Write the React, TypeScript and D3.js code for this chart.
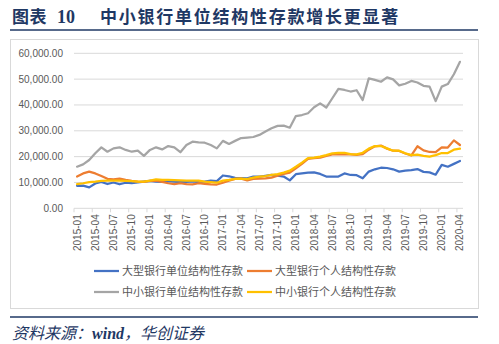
import React from "react";
import * as d3 from "d3";

const months: string[] = [];
for (let y = 2015; y <= 2020; y++) {
  for (let m = 1; m <= 12; m++) {
    if (y === 2020 && m > 4) break;
    months.push(`${y}-${String(m).padStart(2, "0")}`);
  }
}

const seriesNames = [
  "大型银行单位结构性存款",
  "大型银行个人结构性存款",
  "中小银行单位结构性存款",
  "中小银行个人结构性存款",
];

const largeUnit = [
  8700, 8800, 8100, 9600, 10200, 9400, 10000, 9300, 9900, 9700,
  10000, 10300, 10600, 10300, 10200, 10500, 10300, 10100, 10200, 10400,
  10100, 10300, 10700, 10500, 12700, 12400, 11800, 11700, 11600, 12300,
  12300, 12600, 12900, 12600, 12300, 10800, 13200, 13500, 13800, 13900,
  13300, 12300, 12300, 12300, 13500, 12900, 12800, 11600, 14200, 15100,
  15700, 15600, 15100, 14200, 14600, 14800, 15200, 14100, 13900, 13000,
  16800, 16100, 17200, 18300,
];

const largePersonal = [
  12300, 13500, 14200, 13500, 12500, 11400, 11200, 11500, 11000, 10600,
  10300, 10200, 10600, 10700, 10200, 9700, 9400, 9700, 9400, 9300,
  9700, 9500, 9300, 9200, 9900, 10700, 11400, 11500, 10800, 11400,
  11500, 11600, 11900, 12600, 13300, 13800, 15500, 17200, 19100, 19400,
  19600, 20300, 20900, 21000, 20900, 20900, 20700, 21000, 22700, 24000,
  24300, 23100, 22300, 22200, 21200, 20500, 24000, 22400, 21800, 21700,
  23600, 23500, 26300, 24500,
];

const smallUnit = [
  16100, 17000, 18700, 21300, 23600, 21900, 23200, 23600, 22600, 21900,
  22300, 20300, 22600, 23600, 22800, 24100, 23600, 21700, 24500, 25800,
  25500, 25400, 24500, 23200, 26100, 24900, 26100, 27200, 27400, 27600,
  28400, 29700, 31000, 31900, 32000, 31200, 35700, 36100, 36800, 39100,
  40600, 39000, 42600, 46200, 45800, 45200, 45700, 41900, 50300, 49700,
  49000, 50700, 49900, 47600, 48200, 49300, 48700, 47400, 47100, 41500,
  47100, 48100, 51900, 56700,
];

const smallPersonal = [
  9400, 9700, 10100, 10300, 10600, 10700, 10700, 10700, 10600, 10500,
  10300, 10300, 10700, 11200, 11000, 11000, 10900, 10800, 10700, 10700,
  10700, 10300, 10100, 9900, 10700, 11000, 11400, 11500, 11300, 11900,
  12300, 12500, 12900, 13200, 13800, 14600, 16100, 17700, 19400, 19600,
  20000, 20600, 21300, 21500, 21500, 21000, 20900, 21500, 23100, 24100,
  24100, 23200, 22300, 22300, 21300, 20600, 20800, 20300, 20000, 20600,
  21400, 21400, 22700, 23100,
];

const yTicks = [0, 10000, 20000, 30000, 40000, 50000, 60000];
const colors = ["#4472C4", "#ED7D31", "#A5A5A5", "#FFC000"];
const allSeries = [largeUnit, largePersonal, smallUnit, smallPersonal];

const W = 499;
const H = 344;
const plotLeft = 74;
const plotRight = 463;
const plotTop = 53.3;
const plotBottom = 208.3;
const navy = "#1F3864";

export default function App() {
  const x = d3.scaleBand<string>().domain(months).range([plotLeft, plotRight]).padding(0);
  const bw = x.bandwidth();
  const cx = (m: string) => (x(m) as number) + bw / 2;
  const y = d3.scaleLinear().domain([0, 60000]).range([plotBottom, plotTop]);
  const fmt = d3.format(",.2f");
  const line = d3
    .line<number>()
    .x((_, i) => cx(months[i]))
    .y((d) => y(d));

  const tickBoundaries: number[] = [];
  for (let i = 0; i <= months.length; i += 3) tickBoundaries.push(plotLeft + i * bw);

  const legendItems = [
    { name: seriesNames[0], color: colors[0], lx: 94, ly: 271 },
    { name: seriesNames[1], color: colors[1], lx: 247, ly: 271 },
    { name: seriesNames[2], color: colors[2], lx: 94, ly: 292 },
    { name: seriesNames[3], color: colors[3], lx: 247, ly: 292 },
  ];

  const cjk = "'Noto Sans CJK SC', 'Noto Sans', sans-serif";
  const num = "'Liberation Sans', Arial, sans-serif";

  return (
    <svg
      width={W}
      height={H}
      style={{ position: "absolute", left: 0, top: 0, background: "#fff" }}
    >
      <rect x={0} y={0} width={W} height={H} fill="#fff" />
      {/* Title */}
      <text x={12} y={23} fill={navy} fontSize={17} fontWeight="bold">
        <tspan fontFamily={cjk} letterSpacing={0.5}>图表</tspan>
        <tspan x={57} fontFamily="'Liberation Serif', serif" fontSize={18}>10</tspan>
        <tspan x={100} fontFamily={cjk} letterSpacing={1.75}>
          中小银行单位结构性存款增长更显著
        </tspan>
      </text>
      <line x1={10} x2={478} y1={30} y2={30} stroke={navy} strokeWidth={1.6} />
      {/* chart frame */}
      <rect x={10.5} y={39.5} width={468} height={269} fill="none" stroke="#d9d9d9" strokeWidth={1} />

      {/* gridlines */}
      {yTicks.map((t) => (
        <g key={t}>
          <line
            x1={plotLeft}
            x2={plotRight}
            y1={y(t)}
            y2={y(t)}
            stroke="#d9d9d9"
            strokeWidth={1}
          />
          <text
            x={63}
            y={y(t)}
            dy="0.35em"
            textAnchor="end"
            fontSize={10}
            fontFamily={num}
            fill="#595959"
          >
            {fmt(t)}
          </text>
        </g>
      ))}
      {/* x tick marks */}
      {tickBoundaries.map((tx, i) => (
        <line key={i} x1={tx} x2={tx} y1={plotBottom} y2={plotBottom + 4} stroke="#d9d9d9" />
      ))}
      {/* x labels */}
      {months.map((m, i) =>
        i % 3 === 0 ? (
          <text
            key={m}
            transform={`translate(${cx(m)},${plotBottom + 6}) rotate(-90)`}
            textAnchor="end"
            dy="0.35em"
            fontSize={10}
            fontFamily={num}
            fill="#595959"
          >
            {m}
          </text>
        ) : null
      )}
      {/* lines */}
      {allSeries.map((s, k) => (
        <path
          key={k}
          d={line(s) as string}
          fill="none"
          stroke={colors[k]}
          strokeWidth={2.25}
          strokeLinejoin="round"
          strokeLinecap="round"
        />
      ))}
      {/* legend */}
      {legendItems.map((it) => (
        <g key={it.name}>
          <line x1={it.lx} x2={it.lx + 25} y1={it.ly} y2={it.ly} stroke={it.color} strokeWidth={2.25} />
          <text
            x={it.lx + 28}
            y={it.ly}
            dy="0.35em"
            fontSize={11}
            fontFamily={cjk}
            fill="#595959"
          >
            {it.name}
          </text>
        </g>
      ))}
      {/* source */}
      <line x1={10} x2={478} y1={317} y2={317} stroke={navy} strokeWidth={1.6} />
      <text x={12} y={339} fill={navy} fontSize={16} fontStyle="italic" fontFamily={cjk}>
        资料来源：
        <tspan fontFamily="'Liberation Serif', serif" fontWeight="bold">wind</tspan>
        ，华创证券
      </text>
    </svg>
  );
}
